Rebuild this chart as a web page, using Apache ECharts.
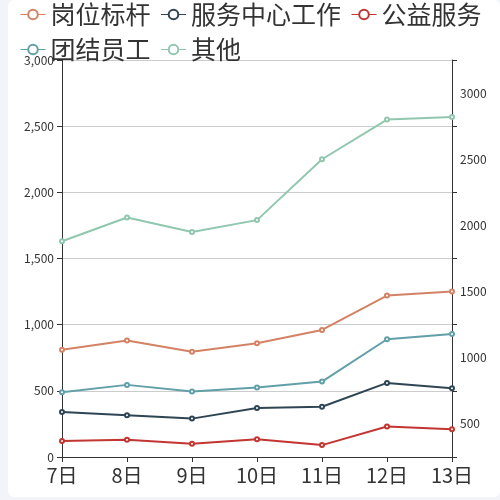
<!DOCTYPE html>
<html>
<head>
<meta charset="utf-8">
<script src="https://cdn.jsdelivr.net/npm/echarts@6/dist/echarts.min.js"></script>
<style>
html,body{margin:0;padding:0;background:#f3f4f9;width:500px;height:500px;overflow:hidden;}
#c{position:absolute;left:8px;top:0;width:492px;height:497px;background:#fff;border-radius:6px;}
</style>
</head>
<body>
<div id="c"></div>
<script>
var categories = ['7日','8日','9日','10日','11日','12日','13日'];
var seriesNames = ['岗位标杆','服务中心工作','公益服务','团结员工','其他'];
var gangwei = [810, 880, 795, 860, 960, 1220, 1250];
var fuwu = [340, 315, 290, 370, 380, 560, 520];
var gongyi = [120, 130, 100, 135, 90, 230, 210];
var tuanjie = [490, 545, 495, 525, 570, 890, 930];
var qita = [1630, 1810, 1700, 1790, 2250, 2550, 2570];
var rightLabels = ['500','1000','1500','2000','2500','3000'];
var colors = ['#d48265','#2f4554','#c23531','#61a0a8','#91c7ae'];

var values = [gangwei, fuwu, gongyi, tuanjie, qita];
var font = '"Noto Sans CJK SC", "Noto Sans", sans-serif';
var chart = echarts.init(document.getElementById('c'));
chart.setOption({
  color: colors,
  textStyle: {fontFamily: font},
  legend: {
    left: 7, top: -3, itemGap: 10, width: 492,
    itemWidth: 25, itemHeight: 12,
    itemStyle: {borderWidth: 1},
    lineStyle: {width: 1},
    textStyle: {fontSize: 25, color: '#333', fontFamily: font},
    data: seriesNames
  },
  grid: {left: 54, right: 48, top: 60, bottom: 40},
  xAxis: {
    type: 'category', boundaryGap: false, data: categories,
    axisLine: {lineStyle: {color: '#333'}},
    axisTick: {lineStyle: {color: '#333'}},
    axisLabel: {fontSize: 20, color: '#333', margin: 8}
  },
  yAxis: [{
    type: 'value', min: 0, max: 3000, interval: 500,
    axisLine: {show: true, lineStyle: {color: '#333'}},
    axisTick: {show: true, lineStyle: {color: '#333'}},
    axisLabel: {fontSize: 12, color: '#333', formatter: function (v) { return v.toString().replace(/\B(?=(\d{3})+(?!\d))/g, ','); }},
    splitLine: {lineStyle: {color: '#ccc'}}
  }, {
    type: 'category', position: 'right', data: rightLabels,
    axisLine: {show: true, lineStyle: {color: '#333'}},
    axisTick: {show: true, lineStyle: {color: '#333'}},
    axisLabel: {fontSize: 12, color: '#333'},
    splitLine: {show: false}
  }],
  series: seriesNames.map(function (n, i) {
    return {
      name: n, type: 'line', yAxisIndex: 0, data: values[i],
      symbol: 'emptyCircle', symbolSize: 4,
      lineStyle: {width: 2}
    };
  })
});
</script>
</body>
</html>
